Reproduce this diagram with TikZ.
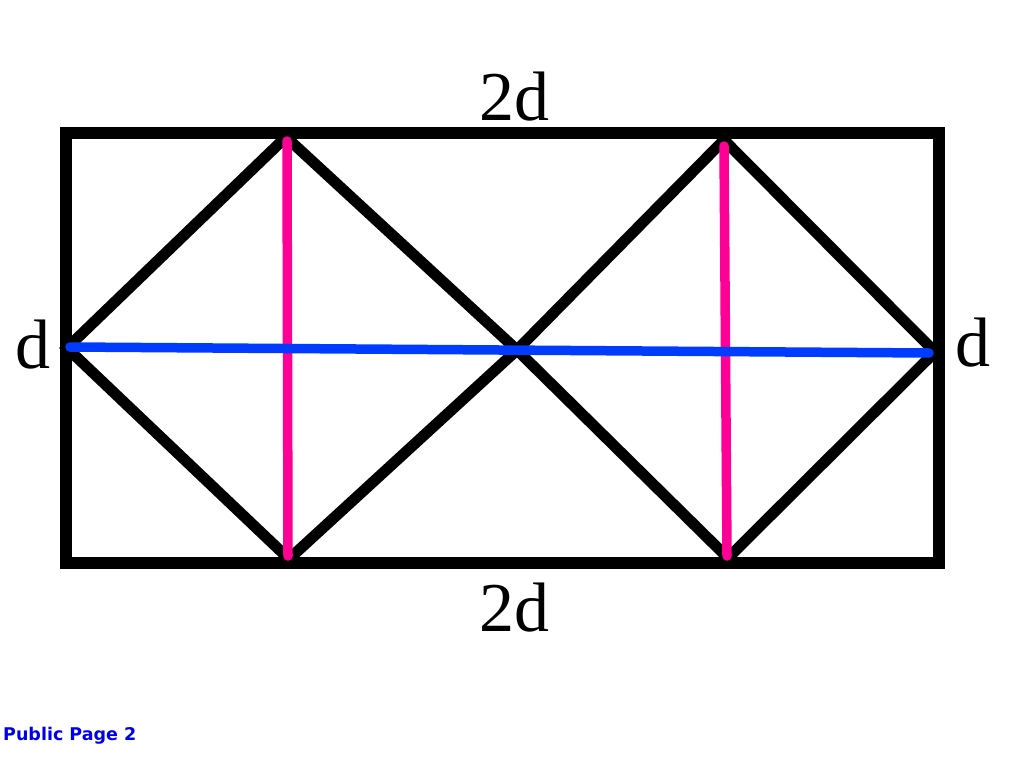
\documentclass[tikz,border=0pt]{standalone}
\usepackage{fontspec}
\setmainfont{Liberation Serif}
\newfontfamily\labfont{DejaVu Sans}
\definecolor{mypink}{RGB}{255,0,150}
\definecolor{myblue}{RGB}{0,60,255}
\definecolor{pgblue}{RGB}{0,0,240}
\begin{document}
\begin{tikzpicture}[x=1pt,y=-1pt,
  frame/.style={line width=12pt,black},
  zig/.style={line width=11pt,black,line join=miter},
  pinkline/.style={line width=9.5pt,mypink,line cap=round},
  blueline/.style={line width=9.5pt,myblue,line cap=round},
  lab/.style={inner sep=0pt,anchor=base,font=\fontsize{70}{70}\selectfont}]
\useasboundingbox (0,0) rectangle (1014,760);
% corners
\coordinate (tl) at (66,133);
\coordinate (br) at (939,563);
% zigzag vertices
\coordinate (L) at (67,348);
\coordinate (T1) at (286,137);
\coordinate (B1) at (289,559);
\coordinate (C) at (517,350);
\coordinate (T2) at (724,140);
\coordinate (B2) at (728,558);
\coordinate (R) at (935,352);
% pink/blue end points
\coordinate (p1a) at (287,141);
\coordinate (p1b) at (288,556);
\coordinate (p2a) at (724,146);
\coordinate (p2b) at (727,556);
\coordinate (ba) at (70,347);
\coordinate (bb) at (929,353);
\draw[frame] (tl) rectangle (br);
\draw[zig] (L) -- (T1) -- (C) -- (T2) -- (R) -- (B2) -- (C) -- (B1) -- cycle;
\draw[pinkline] (p1a) -- (p1b);
\draw[pinkline] (p2a) -- (p2b);
\draw[blueline] (ba) -- (bb);
\node[lab] (top) at (514,120) {2d};
\node[lab] (bot) at (514,631) {2d};
\node[lab] (left) at (33,368) {d};
\node[lab] (right) at (973,366) {d};
\node[inner sep=0pt,anchor=base west,text=pgblue,font=\labfont\bfseries\fontsize{17.5}{17.5}\selectfont] (pub) at (3,740) {Public Page 2};
\end{tikzpicture}
\end{document}
